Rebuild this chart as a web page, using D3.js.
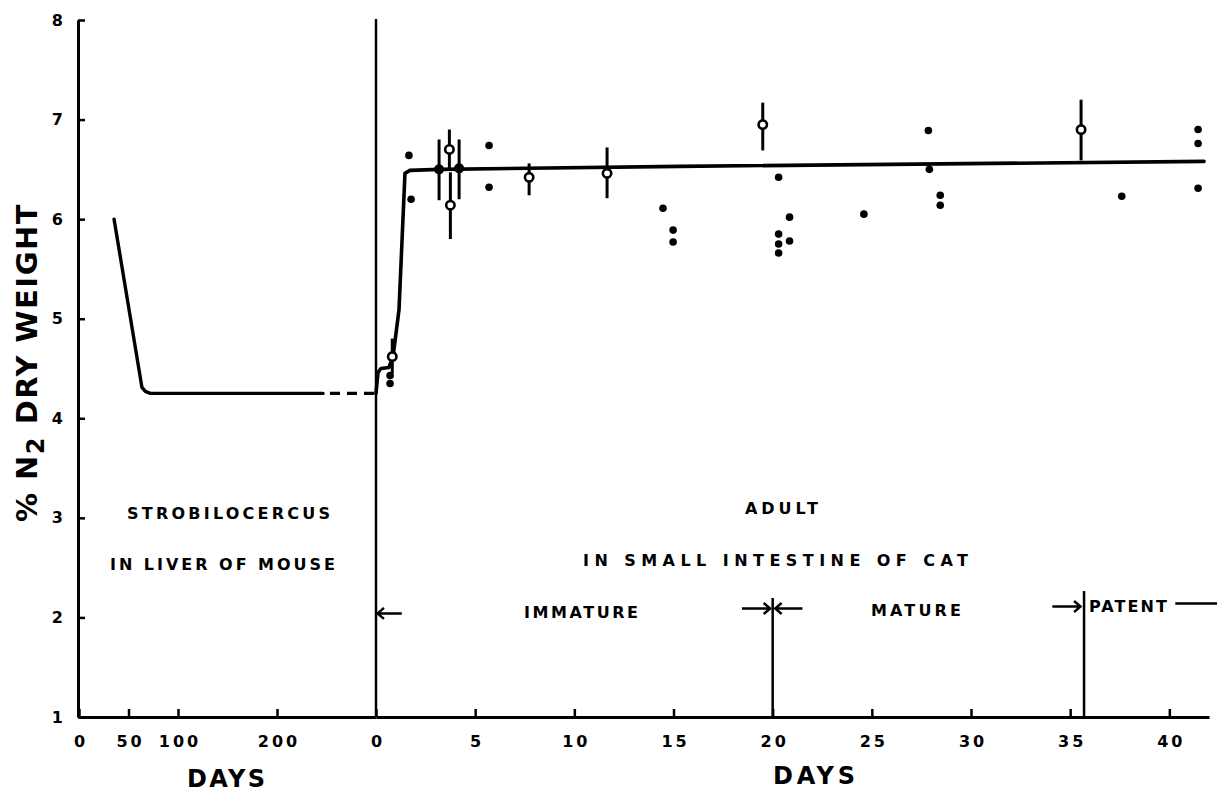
<!DOCTYPE html>
<html>
<head>
<meta charset="utf-8">
<script src="https://cdn.jsdelivr.net/npm/d3@7"></script>
<style>
  html, body { margin: 0; padding: 0; background: #fff; }
  svg { display: block; }
  text { font-family: "DejaVu Sans", sans-serif; font-weight: bold; fill: #000; }
</style>
</head>
<body>
<svg id="chart" width="1217" height="792"></svg>
<script>
// ---- data -------------------------------------------------------------
// % nitrogen (dry weight) scale
const nTicks = [1, 2, 3, 4, 5, 6, 7, 8];

// strobilocercus stage in the mouse liver: days after infection
const mouseDayTicks = [0, 50, 100, 200];
const mouseCurve = [[35.4, 6.0], [63.6, 4.31], [67, 4.27], [72, 4.25], [246.5, 4.25]];
const mouseCurveDashed = [[253.5, 4.25], [300, 4.25]];

// adult stage in the cat intestine: days after feeding
const catDayTicks = [0, 5, 10, 15, 20, 25, 30, 35, 40];
const catCurve = [
  [0, 4.25], [0.1, 4.46], [0.25, 4.5], [0.65, 4.51], [0.86, 4.62], [1.16, 5.09],
  [1.46, 6.46], [1.71, 6.49], [3.2, 6.5], [15.3, 6.53], [41.75, 6.58]
];
const catSingles = [
  [0.71, 4.43], [0.71, 4.35],
  [1.66, 6.64], [1.77, 6.2],
  [5.7, 6.74], [5.7, 6.32],
  [14.47, 6.11], [14.98, 5.89], [14.98, 5.77],
  [20.3, 6.42], [20.85, 6.02], [20.3, 5.85], [20.3, 5.75], [20.85, 5.78], [20.3, 5.66],
  [24.6, 6.05],
  [27.85, 6.89], [27.9, 6.5], [28.45, 6.24], [28.45, 6.14],
  [37.6, 6.23],
  [41.45, 6.9], [41.45, 6.76], [41.45, 6.31]
];
// means with ranges: [day, mean, low, high]
const catMeansOpen = [
  [0.82, 4.62, 4.45, 4.8],
  [3.7, 6.7, 6.5, 6.9],
  [3.75, 6.14, 5.8, 6.47],
  [7.72, 6.42, 6.24, 6.56],
  [11.65, 6.46, 6.21, 6.72],
  [19.5, 6.95, 6.69, 7.17],
  [35.55, 6.9, 6.59, 7.2]
];
const catMeansFilled = [
  [3.18, 6.5, 6.19, 6.8],
  [4.19, 6.51, 6.2, 6.8]
];

// stage boundaries (days) and the level where their markers start
const stageBoundaries = [[20, 2.195], [35.7, 2.265]];
const stageNames = ["IMMATURE", "MATURE", "PATENT"];

// ---- scales -----------------------------------------------------------
const svg = d3.select("#chart");
svg.append("rect").attr("width", 1217).attr("height", 792).attr("fill", "#fff");

const y = d3.scaleLinear().domain([1, 8]).range([717, 20]);
const xMouse = d3.scaleLinear().domain([0, 300]).range([79, 376]);
const xCat = d3.scaleLinear().domain([0, 42]).range([376, 1209]);

// ---- axes -------------------------------------------------------------
function styleAxis(g, size, spacing) {
  g.attr("font-family", null).attr("font-size", null);
  g.select(".domain").attr("stroke", "#000").attr("stroke-width", 3);
  g.selectAll(".tick line").attr("stroke", "#000").attr("stroke-width", 2.5);
  g.selectAll(".tick text")
    .style("font-size", size + "px")
    .style("letter-spacing", spacing + "px");
}

const yAxis = svg.append("g")
  .attr("transform", `translate(${xMouse(0) - 1},0)`)
  .call(d3.axisLeft(y).tickValues(nTicks).tickSizeInner(-7).tickSizeOuter(0)
    .tickPadding(15).tickFormat(d3.format("d")));
styleAxis(yAxis, 16, 0);

const mouseAxis = svg.append("g")
  .attr("transform", `translate(0,${y(1)})`)
  .call(d3.axisBottom(xMouse).tickValues(mouseDayTicks).tickSizeInner(-8)
    .tickSizeOuter(0).tickPadding(19).tickFormat(d3.format("d")));
styleAxis(mouseAxis, 16, 3);
mouseAxis.selectAll(".tick text").attr("dx", "1.5px");

const catAxis = svg.append("g")
  .attr("transform", `translate(0,${y(1)})`)
  .call(d3.axisBottom(xCat).tickValues(catDayTicks).tickSizeInner(-8)
    .tickSizeOuter(0).tickPadding(19).tickFormat(d3.format("d")));
styleAxis(catAxis, 16, 3);
catAxis.selectAll(".tick text").attr("dx", "1.5px");

// host change: liver of mouse -> intestine of cat
svg.append("line")
  .attr("x1", xCat(0)).attr("x2", xCat(0))
  .attr("y1", y(8) - 1).attr("y2", y(1))
  .attr("stroke", "#000").attr("stroke-width", 2.5);

// axis titles
const yTitle = svg.append("text")
  .attr("transform", `translate(37,203) rotate(-90)`)
  .attr("text-anchor", "end")
  .style("font-size", "29px")
  .style("letter-spacing", "1.5px");
yTitle.append("tspan").text("% N");
yTitle.append("tspan").attr("dy", 7).style("font-size", "24px").text("2");
yTitle.append("tspan").attr("dy", -7).text(" DRY WEIGHT");

svg.append("text").attr("x", 187).attr("y", 787)
  .attr("textLength", 78).attr("lengthAdjust", "spacing")
  .style("font-size", "24px").text("DAYS");
svg.append("text").attr("x", 773).attr("y", 784)
  .attr("textLength", 82).attr("lengthAdjust", "spacing")
  .style("font-size", "24px").text("DAYS");

// ---- curves -----------------------------------------------------------
const mouseLine = d3.line().x(d => xMouse(d[0])).y(d => y(d[1]));
const catLine = d3.line().x(d => xCat(d[0])).y(d => y(d[1]));

svg.append("path").attr("d", mouseLine(mouseCurve))
  .attr("fill", "none").attr("stroke", "#000").attr("stroke-width", 3.4)
  .attr("stroke-linejoin", "round").attr("stroke-linecap", "round");
svg.append("path").attr("d", mouseLine(mouseCurveDashed))
  .attr("fill", "none").attr("stroke", "#000").attr("stroke-width", 3.2)
  .attr("stroke-dasharray", "10,7");
svg.append("path").attr("d", catLine(catCurve))
  .attr("fill", "none").attr("stroke", "#000").attr("stroke-width", 3.6)
  .attr("stroke-linejoin", "round").attr("stroke-linecap", "round");

// ---- ranges and points -----------------------------------------------
const allMeans = catMeansOpen.concat(catMeansFilled);
svg.append("g").selectAll("line").data(allMeans).join("line")
  .attr("x1", d => xCat(d[0])).attr("x2", d => xCat(d[0]))
  .attr("y1", d => y(d[3])).attr("y2", d => y(d[2]))
  .attr("stroke", "#000").attr("stroke-width", 3);

svg.append("g").selectAll("circle").data(catSingles).join("circle")
  .attr("cx", d => xCat(d[0])).attr("cy", d => y(d[1]))
  .attr("r", 3.8).attr("fill", "#000");

svg.append("g").selectAll("circle").data(catMeansFilled).join("circle")
  .attr("cx", d => xCat(d[0])).attr("cy", d => y(d[1]))
  .attr("r", 5).attr("fill", "#000");

svg.append("g").selectAll("circle").data(catMeansOpen).join("circle")
  .attr("cx", d => xCat(d[0])).attr("cy", d => y(d[1]))
  .attr("r", 4.2).attr("fill", "#fff").attr("stroke", "#000").attr("stroke-width", 2.6);

// ---- stage boundaries and labels -------------------------------------
svg.append("g").selectAll("line").data(stageBoundaries).join("line")
  .attr("x1", d => xCat(d[0])).attr("x2", d => xCat(d[0]))
  .attr("y1", d => y(d[1])).attr("y2", y(1))
  .attr("stroke", "#000").attr("stroke-width", 2.5);

// arrows: [from day, to day, level, has head]
const arrows = [
  [1.3, 0.05, 2.04, true],
  [18.45, 19.9, 2.09, true],
  [21.5, 20.1, 2.09, true],
  [34.1, 35.55, 2.11, true],
  [40.3, 42.5, 2.14, false]
];
const arrowPath = d => {
  const x0 = xCat(d[0]), x1 = xCat(d[1]), yy = y(d[2]);
  let p = `M${x0},${yy}L${x1},${yy}`;
  if (d[3]) {
    const s = Math.sign(d[0] - d[1]);
    p += `M${x1 + s * 7},${yy - 5.5}L${x1 + s * 0.5},${yy}L${x1 + s * 7},${yy + 5.5}`;
  }
  return p;
};
svg.append("g").selectAll("path").data(arrows).join("path")
  .attr("d", arrowPath).attr("fill", "none").attr("stroke", "#000")
  .attr("stroke-width", 2.4).attr("stroke-linejoin", "miter");

// stage and host captions: [text, left x, baseline y, width]
const captions = [
  ["STROBILOCERCUS", 127, 519, 203],
  ["IN LIVER OF MOUSE", 110, 570, 225],
  ["ADULT", 745, 514, 73],
  ["IN SMALL INTESTINE OF CAT", 583, 566, 385],
  [stageNames[0], 524, 618, 114],
  [stageNames[1], 871, 616, 90],
  [stageNames[2], 1089, 612, 78]
];
svg.append("g").selectAll("text").data(captions).join("text")
  .attr("x", d => d[1]).attr("y", d => d[2])
  .attr("textLength", d => d[3]).attr("lengthAdjust", "spacing")
  .style("font-size", "16px")
  .text(d => d[0]);
</script>
</body>
</html>
